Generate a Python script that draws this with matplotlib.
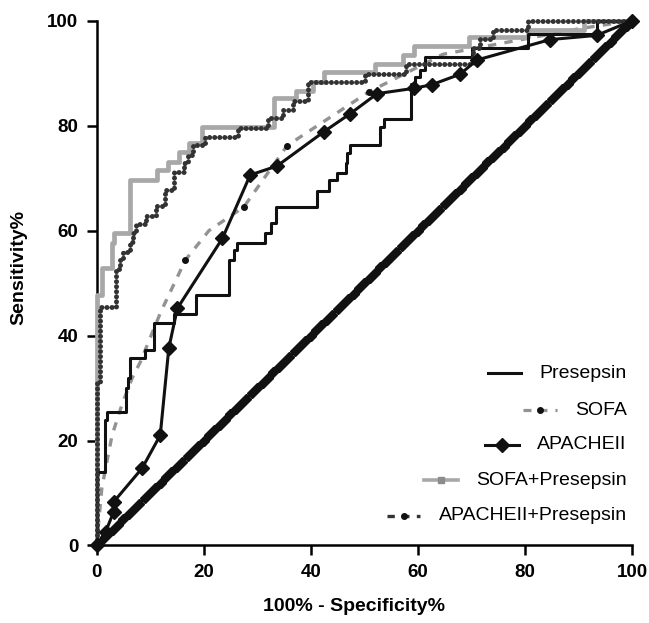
import matplotlib
matplotlib.use("Agg")
import matplotlib.pyplot as plt
import numpy as np
from matplotlib.lines import Line2D

plt.rcParams["font.family"] = ["Liberation Sans", "DejaVu Sans"]

# ROC corners (step curves use steps-post)
presepsin_x = [0, 0, 1.6, 2.0, 5.6, 5.8, 6.3, 9.1, 10.7, 14.4, 18.5, 24.7, 25.6, 26.2,
               31.5, 32.5, 33.5, 41.2, 43.5, 44.9, 46.5, 46.8, 47.4, 53.0, 53.6, 58.7,
               59.5, 60.4, 61.4, 70.1, 80.5, 93.4, 100]
presepsin_y = [0, 14.0, 24.0, 25.5, 30.0, 32.0, 35.7, 37.2, 42.4, 44.2, 47.7, 54.4, 56.3, 57.6,
               59.5, 61.4, 64.5, 67.5, 69.6, 70.9, 72.8, 74.7, 76.3, 79.8, 81.2, 88.0,
               89.3, 90.6, 93.1, 94.7, 97.4, 100, 100]

sofa_x = [0, 1.0, 2.9, 4.8, 6.7, 8.2, 12.0, 16.6, 21.0, 27.5, 35.6, 50.8, 64.7, 90.3, 100]
sofa_y = [0, 11.0, 21.0, 27.0, 32.0, 35.0, 44.5, 54.4, 60.0, 64.5, 76.2, 86.4, 93.6, 98.5, 100]

apache_x = [0, 1.7, 3.2, 3.2, 8.5, 11.9, 13.5, 15.1, 23.5, 28.7, 33.7, 42.4, 47.4, 52.4,
            59.2, 62.6, 67.9, 71.0, 84.7, 93.4, 100]
apache_y = [0, 2.6, 6.4, 8.3, 14.7, 21.0, 37.6, 45.2, 58.5, 70.6, 72.3, 78.8, 82.3, 86.1,
            87.1, 87.8, 89.8, 92.5, 96.4, 97.2, 100]

sofa_pre_x = [0, 0, 1.1, 2.9, 3.3, 6.2, 11.3, 13.3, 15.4, 17.2, 19.7, 33.2, 37.2, 40.5,
              42.5, 52.0, 57.3, 59.2, 69.5, 80.5, 91.0, 100]
sofa_pre_y = [0, 47.7, 52.8, 57.6, 59.5, 69.6, 71.5, 73.1, 75.0, 76.6, 79.8, 85.2, 86.6, 88.3,
              90.2, 91.8, 93.4, 95.2, 96.8, 98.2, 100, 100]

apache_pre_x = [0, 0, 0.7, 3.7, 4.3, 4.9, 6.3, 6.8, 7.4, 9.3, 11.2, 12.8, 14.4, 16.3, 17.0,
                18.0, 20.3, 26.5, 32.0, 34.8, 36.7, 39.5, 50.2, 57.8, 70.3, 71.6, 74.0,
                80.6, 100]
apache_pre_y = [0, 31.0, 45.5, 52.6, 54.4, 56.0, 57.8, 59.5, 61.2, 62.8, 64.6, 67.8, 71.2,
                72.8, 74.4, 76.3, 77.9, 79.6, 81.4, 83.0, 84.7, 88.3, 89.9, 91.7, 94.7,
                96.6, 98.3, 100, 100]

ticks = [0, 20, 40, 60, 80, 100]
labels = ["Presepsin", "SOFA", "APACHEII", "SOFA+Presepsin", "APACHEII+Presepsin"]

BLACK = "#111111"
LIGHT = "#a8a8a8"
DASH_GREY = "#939393"
DARK_DOT = "#333333"
DOTS = (0, (0.01, 1.0))

fig = plt.figure(figsize=(6.49, 6.23), dpi=100)
ax = fig.add_axes([0.1487, 0.1244, 0.8252, 0.8424])

# chance line (diagonal drawn with dense diamonds, like the original)
chance = np.linspace(0, 100, 101)
ax.plot(chance, chance, color=BLACK, lw=2.4, marker="D", ms=4.6, clip_on=False, zorder=2)

ax.step(presepsin_x, presepsin_y, where="post", color=BLACK, lw=2.2, clip_on=False, zorder=4)
ax.plot(sofa_x, sofa_y, color=DASH_GREY, lw=2.4, ls=(0, (2.5, 2.5)), clip_on=False, zorder=3)
ax.plot(sofa_x, sofa_y, ls="none", marker="o", ms=4, color=BLACK,
        markevery=[7, 9, 10, 11], clip_on=False, zorder=3)
ax.plot(apache_x, apache_y, color=BLACK, lw=2.2, marker="D", ms=7.5, clip_on=False, zorder=6)
ax.step(sofa_pre_x, sofa_pre_y, where="post", color=LIGHT, lw=3.4, clip_on=False, zorder=3)
ax.step(apache_pre_x, apache_pre_y, where="post", color=DARK_DOT, lw=3.6, ls=DOTS,
        dash_capstyle="round", clip_on=False, zorder=5)

ax.set_xlim(0, 100)
ax.set_ylim(0, 100)
ax.set_xticks(ticks)
ax.set_yticks(ticks)
ax.tick_params(direction="out", length=7, width=1.8, pad=6, labelsize=13.5)
for t in ax.get_xticklabels() + ax.get_yticklabels():
    t.set_fontweight("bold")
for side in ["top", "right"]:
    ax.spines[side].set_visible(False)
for side in ["left", "bottom"]:
    ax.spines[side].set_linewidth(1.8)

ax.set_xlabel("100% - Specificity%", fontsize=14, fontweight="bold")
ax.set_ylabel("Sensitivity%", fontsize=14, fontweight="bold")
ax.xaxis.set_label_coords(0.48, -0.1)
ax.yaxis.set_label_coords(-0.13, 0.53)

# legend: right-aligned text, handle just left of each label
rows_y = [0.328, 0.258, 0.1915, 0.1248, 0.0568]
fig.canvas.draw()
renderer = fig.canvas.get_renderer()
inv = ax.transAxes.inverted()
hlen, gap = 0.063, 0.034
for lab, yy in zip(labels, rows_y):
    txt = ax.text(0.99, yy, lab, transform=ax.transAxes, ha="right", va="center",
                  fontsize=14)
    bb = txt.get_window_extent(renderer=renderer)
    x0 = inv.transform((bb.x0, bb.y0))[0]
    x1 = x0 - gap
    xs = [x1 - hlen, x1]
    xm = x1 - hlen / 2
    if lab == "Presepsin":
        ax.add_line(Line2D(xs, [yy, yy], transform=ax.transAxes, color=BLACK, lw=2.2))
    elif lab == "SOFA":
        ax.add_line(Line2D(xs, [yy, yy], transform=ax.transAxes, color=DASH_GREY, lw=2.3,
                           ls=(0, (2.5, 2.5))))
        ax.add_line(Line2D([xm], [yy], transform=ax.transAxes, ls="none", marker="o",
                           ms=4, color=BLACK))
    elif lab == "APACHEII":
        ax.add_line(Line2D(xs, [yy, yy], transform=ax.transAxes, color=BLACK, lw=2.2))
        ax.add_line(Line2D([xm], [yy], transform=ax.transAxes, ls="none", marker="D",
                           ms=7.5, color=BLACK))
    elif lab == "SOFA+Presepsin":
        ax.add_line(Line2D(xs, [yy, yy], transform=ax.transAxes, color=LIGHT, lw=2.6))
        ax.add_line(Line2D([xm], [yy], transform=ax.transAxes, ls="none", marker="s",
                           ms=4, color="#8c8c8c"))
    else:
        ax.add_line(Line2D(xs, [yy, yy], transform=ax.transAxes, color=DARK_DOT, lw=2.4,
                           ls=(0, (2.2, 2.2))))
        ax.add_line(Line2D([xm], [yy], transform=ax.transAxes, ls="none", marker="o",
                           ms=4, color=BLACK))

fig.savefig("out.png", dpi=100)
